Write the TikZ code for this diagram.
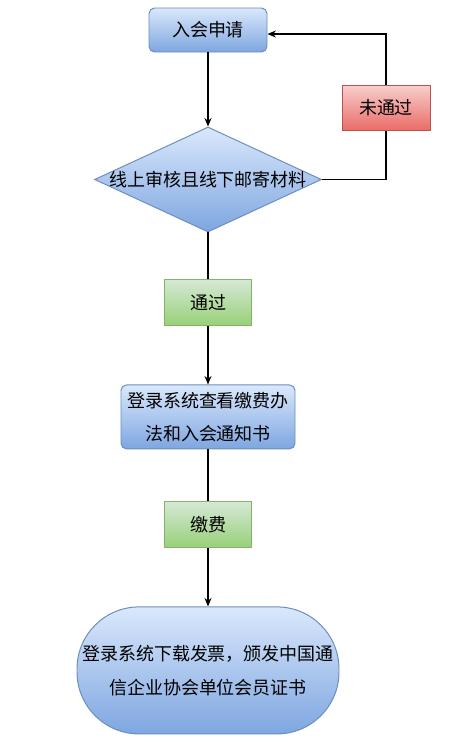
\documentclass[tikz,border=0pt]{standalone}
\usepackage{fontspec}
\newfontfamily\cjk{Noto Sans CJK SC}
\usepackage{tikz}
\usetikzlibrary{positioning, arrows.meta, shapes.geometric}
\usepackage{xcolor}
\definecolor{bluetop}{HTML}{DAE8FC}
\definecolor{bluebot}{HTML}{7EA6E0}
\definecolor{blueline}{HTML}{6C8EBF}
\definecolor{redtop}{HTML}{F8CECC}
\definecolor{redbot}{HTML}{EA6B66}
\definecolor{redline}{HTML}{B85450}
\definecolor{greentop}{HTML}{D5E8D4}
\definecolor{greenbot}{HTML}{97D077}
\definecolor{greenline}{HTML}{82B366}

\begin{document}
\begin{tikzpicture}[
  txt/.style={font=\cjk\fontsize{12.8}{23}\selectfont, align=center, inner sep=0pt},
  bluebox/.style={rectangle, draw=blueline, line width=0.7pt, rounded corners=4pt, top color=bluetop, bottom color=bluebot, txt},
  greenbox/.style={rectangle, draw=greenline, line width=0.7pt, top color=greentop, bottom color=greenbot, minimum width=2.175cm, minimum height=1.15cm, txt},
  redbox/.style={rectangle, draw=redline, line width=0.7pt, top color=redtop, bottom color=redbot, minimum width=2.2cm, minimum height=1.125cm, txt},
  arr/.style={-{Stealth[length=6pt, width=5pt]}, line width=0.9pt},
  lin/.style={line width=0.9pt}
]
\useasboundingbox (0,0) rectangle (11.225,-18.55);
\node[bluebox, minimum width=2.95cm, minimum height=1.1cm] (apply) at (5.2,-0.75) {入会申请};
\node[diamond, draw=blueline, line width=0.7pt, top color=bluetop, bottom color=bluebot,
  minimum width=5.675cm, minimum height=2.625cm, inner sep=0pt, below=1.85cm of apply,
  label={[txt]center:线上审核且线下邮寄材料}] (check) {};
\node[redbox] (fail) at (9.65,-2.7) {未通过};
\node[greenbox, below=1.175cm of check] (pass) {通过};
\node[bluebox, minimum width=4.35cm, minimum height=1.6cm, below=1.45cm of pass] (notice) {登录系统查看缴费办\\法和入会通知书};
\node[greenbox, below=1.3cm of notice] (pay) {缴费};
\node[rectangle, draw=blueline, line width=0.7pt, rounded corners=1.55cm, top color=bluetop, bottom color=bluebot,
  minimum width=6.55cm, minimum height=3.175cm, txt, font=\cjk\fontsize{12.8}{24.5}\selectfont,
  below=1.45cm of pay] (cert) {登录系统下载发票，颁发中国通\\信企业协会单位会员证书};
\draw[arr] (apply) -- (check);
\draw[lin] (check.east) -| (fail.south);
\draw[arr] (fail.north) |- ([yshift=-0.1cm]apply.east);
\draw[lin] (check) -- (pass);
\draw[arr] (pass) -- (notice);
\draw[lin] (notice) -- (pay);
\draw[arr] (pay) -- (cert);
\end{tikzpicture}
\end{document}
